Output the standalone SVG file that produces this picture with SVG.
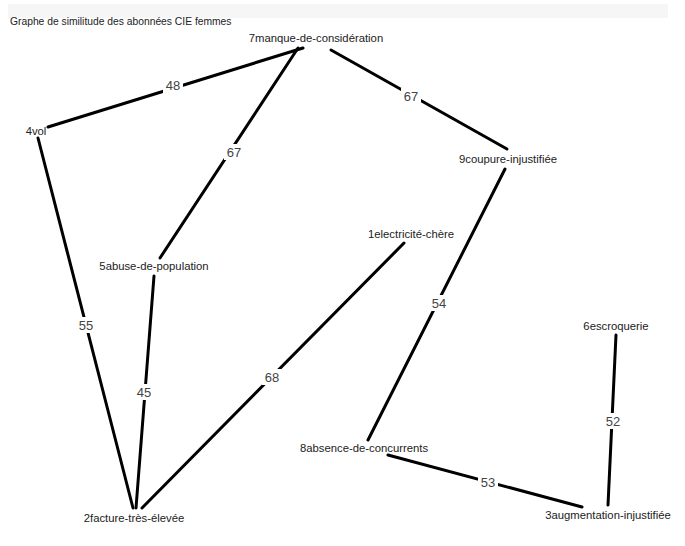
<svg xmlns="http://www.w3.org/2000/svg" width="685" height="546" viewBox="0 0 685 546">
<style>
.n{font-family:"Liberation Sans",Arial,sans-serif;font-size:11.3px;fill:#222;text-anchor:middle}
.e{stroke:#000;stroke-width:3;stroke-linecap:round;fill:none}
.lb{fill:#fff}
.w{font-family:"Liberation Sans",Arial,sans-serif;font-size:13px;fill:#444;text-anchor:middle}
</style>
<rect width="685" height="546" fill="#fff"/>
<rect x="8" y="4" width="660" height="14" fill="#f6f6f6"/>
<text x="10" y="25" font-family="Liberation Sans,Arial,sans-serif" font-size="10.3" fill="#222">Graphe de similitude des abonnées CIE femmes</text>
<g id="connectors">
<line class="e" x1="303" y1="48" x2="48" y2="127"/>
<line class="e" x1="298" y1="48" x2="160" y2="258"/>
<line class="e" x1="331" y1="50" x2="507" y2="149"/>
<line class="e" x1="38" y1="138" x2="133" y2="508"/>
<line class="e" x1="154" y1="276" x2="136" y2="508"/>
<line class="e" x1="404" y1="243" x2="142" y2="508"/>
<line class="e" x1="505" y1="169" x2="368" y2="440"/>
<line class="e" x1="388" y1="455" x2="582" y2="507"/>
<line class="e" x1="616" y1="335" x2="608" y2="505"/>
<rect class="lb" x="163" y="77" width="20" height="16"/><text class="w" x="173" y="90">48</text>
<rect class="lb" x="224" y="144" width="20" height="16"/><text class="w" x="234" y="157">67</text>
<rect class="lb" x="401" y="88" width="20" height="16"/><text class="w" x="411" y="101">67</text>
<rect class="lb" x="76" y="317" width="20" height="16"/><text class="w" x="86" y="330">55</text>
<rect class="lb" x="134" y="384" width="20" height="16"/><text class="w" x="144" y="397">45</text>
<rect class="lb" x="262" y="369" width="20" height="16"/><text class="w" x="272" y="382">68</text>
<rect class="lb" x="429" y="295" width="20" height="16"/><text class="w" x="439" y="308">54</text>
<rect class="lb" x="478" y="474" width="20" height="16"/><text class="w" x="488" y="487">53</text>
<rect class="lb" x="603" y="413" width="20" height="16"/><text class="w" x="613" y="426">52</text>
</g>
<g id="n7"><text class="n" x="316" y="42">7manque-de-considération</text></g>
<g id="n4"><text class="n" x="36" y="135">4vol</text></g>
<g id="n5"><text class="n" x="154" y="270">5abuse-de-population</text></g>
<g id="n1"><text class="n" x="411" y="238">1electricité-chère</text></g>
<g id="n9"><text class="n" x="508" y="163">9coupure-injustifiée</text></g>
<g id="n8"><text class="n" x="364" y="452">8absence-de-concurrents</text></g>
<g id="n6"><text class="n" x="616" y="330">6escroquerie</text></g>
<g id="n2"><text class="n" x="134" y="522">2facture-très-élevée</text></g>
<g id="n3"><text class="n" x="608" y="519">3augmentation-injustifiée</text></g>
</svg>
